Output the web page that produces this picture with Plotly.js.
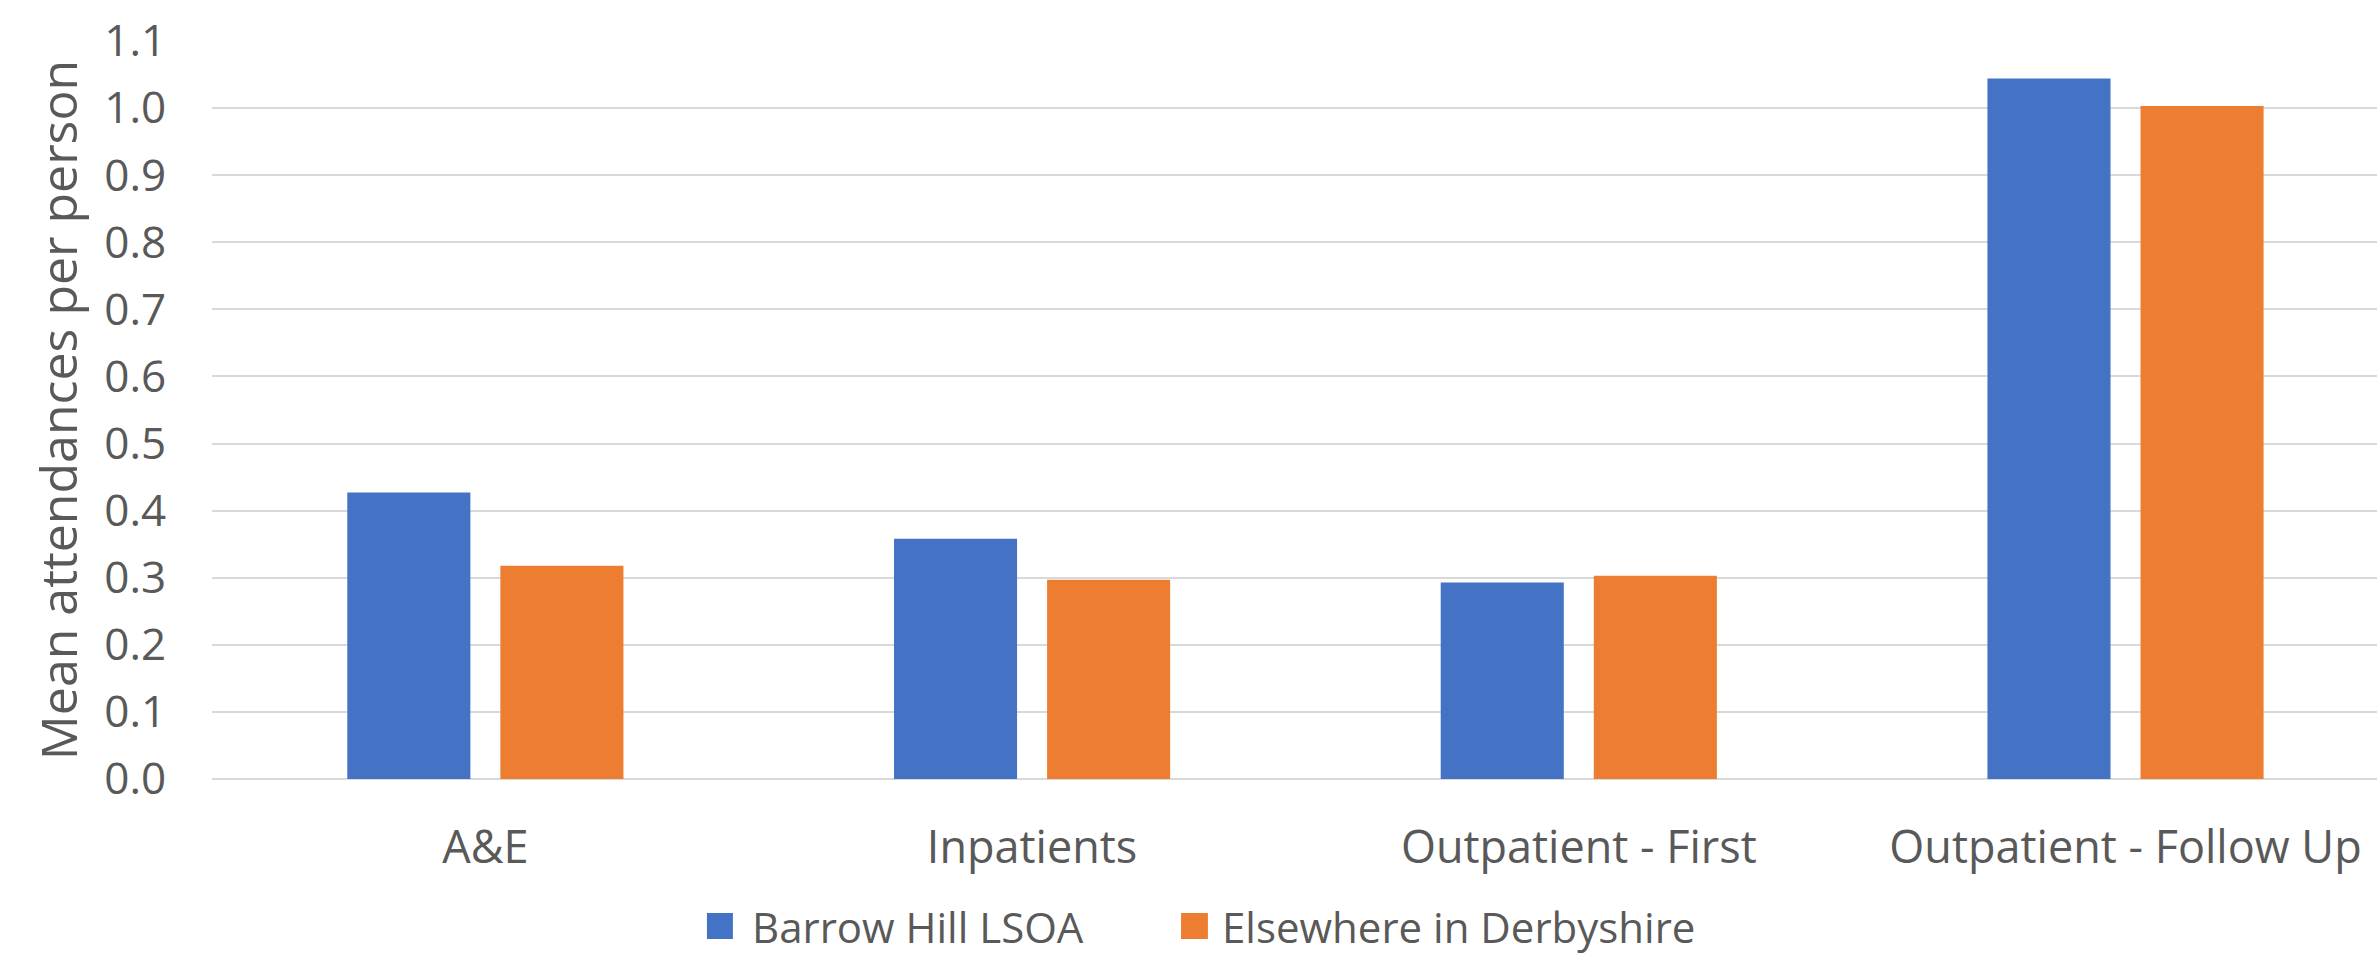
<!DOCTYPE html>
<html>
<head>
<meta charset="utf-8">
<script src="https://cdn.plot.ly/plotly-3.0.1.min.js"></script>
<style>html,body{margin:0;padding:0;background:#fff;}#chart{width:2377px;height:955px;}</style>
</head>
<body>
<div id="chart"></div>
<script>
const categories = ["A&E", "Inpatients", "Outpatient - First", "Outpatient - Follow Up"];
const seriesNames = ["Barrow Hill LSOA", "Elsewhere in Derbyshire"];
const barrowHill = [0.427, 0.358, 0.293, 1.044];
const elsewhere = [0.318, 0.297, 0.303, 1.003];
const yTicks = [0, 0.1, 0.2, 0.3, 0.4, 0.5, 0.6, 0.7, 0.8, 0.9, 1.0, 1.1];
const yTickText = ["0.0","0.1","0.2","0.3","0.4","0.5","0.6","0.7","0.8","0.9","1.0","1.1"];

const colors = ["#4472C4", "#ED7D31"];
const textColor = "#595959";
const fontFam = "'Open Sans', 'Noto Sans', sans-serif";

const data = [
  {type: "bar", name: seriesNames[0], x: categories, y: barrowHill, marker: {color: colors[0]}, showlegend: false},
  {type: "bar", name: seriesNames[1], x: categories, y: elsewhere, marker: {color: colors[1]}, showlegend: false}
];

// legend drawn with shapes + annotations (plot-area paper coords)
const legendSquares = [[0.2286, 0.2406], [0.4476, 0.4600]];
const legendTextX = [0.2485, 0.4656];
const shapes = legendSquares.map((s, i) => ({
  type: "rect", xref: "paper", yref: "paper", x0: s[0], x1: s[1], y0: -0.2168, y1: -0.1816,
  fillcolor: colors[i], line: {width: 0}
}));
const annotations = seriesNames.map((n, i) => ({
  text: n, xref: "paper", yref: "paper", x: legendTextX[i], y: -0.1992,
  xanchor: "left", yanchor: "middle", showarrow: false,
  font: {size: 42, color: textColor, family: fontFam}
}));

const layout = {
  width: 2377, height: 955,
  margin: {l: 212, r: 0, t: 41, b: 176},
  paper_bgcolor: "#fff", plot_bgcolor: "#fff",
  barmode: "group", bargap: 0.44, bargroupgap: 0.196,
  font: {family: fontFam, color: textColor, size: 44},
  showlegend: false,
  shapes: shapes,
  annotations: annotations,
  xaxis: {range: [-0.5, 3.46], showgrid: false, showline: false, zeroline: false,
          ticks: "outside", ticklen: 29, tickcolor: "rgba(0,0,0,0)",
          tickfont: {size: 45, color: textColor}, fixedrange: true},
  yaxis: {range: [0, 1.1], tickvals: yTicks, ticktext: yTickText,
          showgrid: true, gridcolor: "#d9d9d9", gridwidth: 2,
          zeroline: true, zerolinecolor: "#d9d9d9", zerolinewidth: 2,
          ticks: "outside", ticklen: 36, tickcolor: "rgba(0,0,0,0)",
          tickfont: {size: 44, color: textColor},
          title: {text: "Mean attendances per person", font: {size: 50, color: textColor}, standoff: 10},
          fixedrange: true}
};

Plotly.newPlot("chart", data, layout, {displayModeBar: false, staticPlot: true});
</script>
</body>
</html>
